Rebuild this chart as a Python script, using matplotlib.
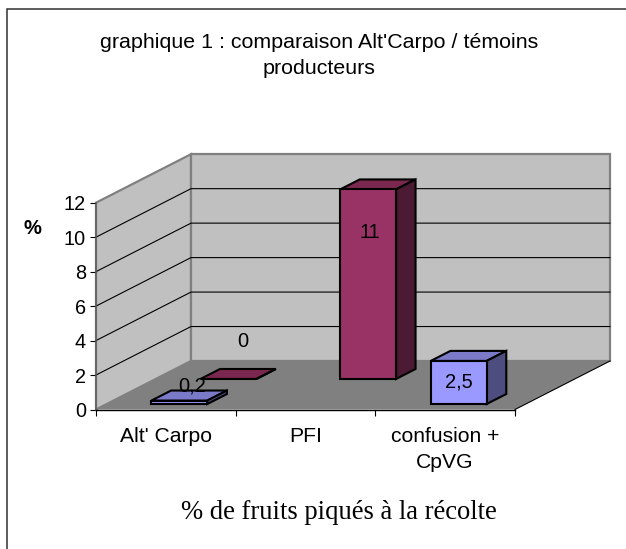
import matplotlib

matplotlib.use("Agg")
import matplotlib.pyplot as plt
from matplotlib.lines import Line2D
from matplotlib.patches import Polygon

# --- data ---
categories = ["Alt' Carpo", "PFI", "confusion +\nCpVG"]
serie_bleue = [0.2, None, 2.5]
serie_rouge = [0, 11, None]
labels_bleue = ["0,2", None, "2,5"]
labels_rouge = ["0", "11", None]
y_ticks = [0, 2, 4, 6, 8, 10, 12]
titre = "graphique 1 : comparaison Alt'Carpo / témoins\nproducteurs"
legende_bas = "% de fruits piqués à la récolte"

W, H = 626, 549

# plan avant du graphique, en pixels
X0, X1 = 96, 515
Y0, Y12 = 409.5, 202.7
# décalage de la profondeur, en unités de données
DX = 95 / ((X1 - X0) / 3)
DY = 48.5 / ((Y0 - Y12) / 12)

plt.rcParams["font.family"] = ["Liberation Sans", "DejaVu Sans"]

fig = plt.figure(figsize=(W / 100, H / 100), dpi=100, facecolor="white")
ax = fig.add_axes([X0 / W, 1 - Y0 / H, (X1 - X0) / W, (Y0 - Y12) / H])
ax.set_xlim(0, 3)
ax.set_ylim(0, 12)
ax.patch.set_visible(False)


def proj(x, y, t=0.0):
    """Projection oblique : t = profondeur entre 0 (avant) et 1 (fond)."""
    return (x + t * DX, y + t * DY)


def poly(points, face, edge="black", lw=0.0, z=2):
    ax.add_patch(Polygon(points, closed=True, facecolor=face, edgecolor=edge,
                         linewidth=lw, clip_on=False, zorder=z, joinstyle="miter"))


# murs et sol
poly([proj(0, 0), proj(0, 0, 1), proj(0, 12, 1), proj(0, 12)], "#c0c0c0", "#808080", 1.6, 1)
poly([proj(0, 0, 1), proj(3, 0, 1), proj(3, 12, 1), proj(0, 12, 1)], "#c0c0c0", "#808080", 1.6, 1)
poly([proj(0, 0), proj(3, 0), proj(3, 0, 1), proj(0, 0, 1)], "#808080", "none", 0, 1)

# quadrillage
for v in y_ticks[1:-1]:
    ax.plot(*zip(proj(0, v), proj(0, v, 1), proj(3, v, 1)), color="black", lw=0.8,
            clip_on=False, zorder=1.5)
ax.plot(*zip(proj(3, 0), proj(3, 0, 1)), color="black", lw=0.8, clip_on=False, zorder=1.5)


def barre(cat, val, t0, t1, face, top, side, texte, lab_dx=0.0, lab_dy=0.0, z=3):
    x0, x1 = cat + 0.32, cat + 0.72
    poly([proj(x0, val, t0), proj(x1, val, t0), proj(x1, val, t1), proj(x0, val, t1)],
         top, "black", 1.5, z)
    poly([proj(x1, 0, t0), proj(x1, 0, t1), proj(x1, val, t1), proj(x1, val, t0)],
         side, "black", 1.5, z)
    poly([proj(x0, 0, t0), proj(x1, 0, t0), proj(x1, val, t0), proj(x0, val, t0)],
         face, "black", 1.5, z)
    cx, cy = proj((x0 + x1) / 2, val, t0)
    ax.text(cx + lab_dx, cy + lab_dy, texte, ha="center", va="center", fontsize=14.5,
            color="black", zorder=6, clip_on=False)


# rang du fond d'abord, puis rang avant
for i, v in enumerate(serie_rouge):
    if v is not None:
        barre(i, v, 0.63, 0.835, "#993366", "#7a2850", "#4c1a33", labels_rouge[i],
              lab_dx=(0.1 if v == 0 else 0.01), lab_dy=(2.2 if v == 0 else -2.52))
for i, v in enumerate(serie_bleue):
    if v is not None:
        barre(i, v, 0.113, 0.32, "#9999ff", "#7a7ac8", "#4d4d80", labels_bleue[i],
              lab_dx=(0.09 if v < 1 else 0.0), lab_dy=(0.84 if v < 1 else -1.2))

# axes : vraies graduations sur les bords avant
for s in ["top", "right"]:
    ax.spines[s].set_visible(False)
ax.spines["left"].set_color("#606060")
ax.spines["left"].set_linewidth(1.1)
ax.spines["bottom"].set_color("black")
ax.spines["bottom"].set_linewidth(1.0)
ax.spines["left"].set_zorder(5)
ax.spines["bottom"].set_zorder(5)
ax.set_yticks(y_ticks)
ax.tick_params(axis="y", length=4.3, width=0.8, pad=2.9, labelsize=14.3)
ax.set_xticks([0, 1, 2, 3])
ax.set_xticklabels([])
ax.set_xticks([0.5, 1.5, 2.5], labels=categories, minor=True)
ax.tick_params(axis="x", which="major", length=4.5, width=0.8)
ax.tick_params(axis="x", which="minor", length=0, pad=12.5, labelsize=15.2)
plt.setp(ax.get_xticklabels(minor=True), linespacing=1.45)

# textes
fig.text(319 / W, 1 - 33.5 / H, titre, ha="center", va="top", fontsize=15.4, linespacing=1.45)
fig.text(32 / W, 1 - 228 / H, "%", ha="center", va="center", fontsize=14.5, fontweight="bold")
fig.text(338.5 / W, 1 - 512.5 / H, legende_bas, ha="center", va="center", fontsize=19.2,
         family=["Liberation Serif", "DejaVu Serif"])

# cadre : seuls les bords gauche et haut sont visibles
fig.add_artist(Line2D([6.5 / W, 6.5 / W, 1], [0, 1 - 9 / H, 1 - 9 / H], transform=fig.transFigure,
                      color="#303030", lw=1.1, solid_joinstyle="miter"))

fig.savefig("out.png", dpi=100)
